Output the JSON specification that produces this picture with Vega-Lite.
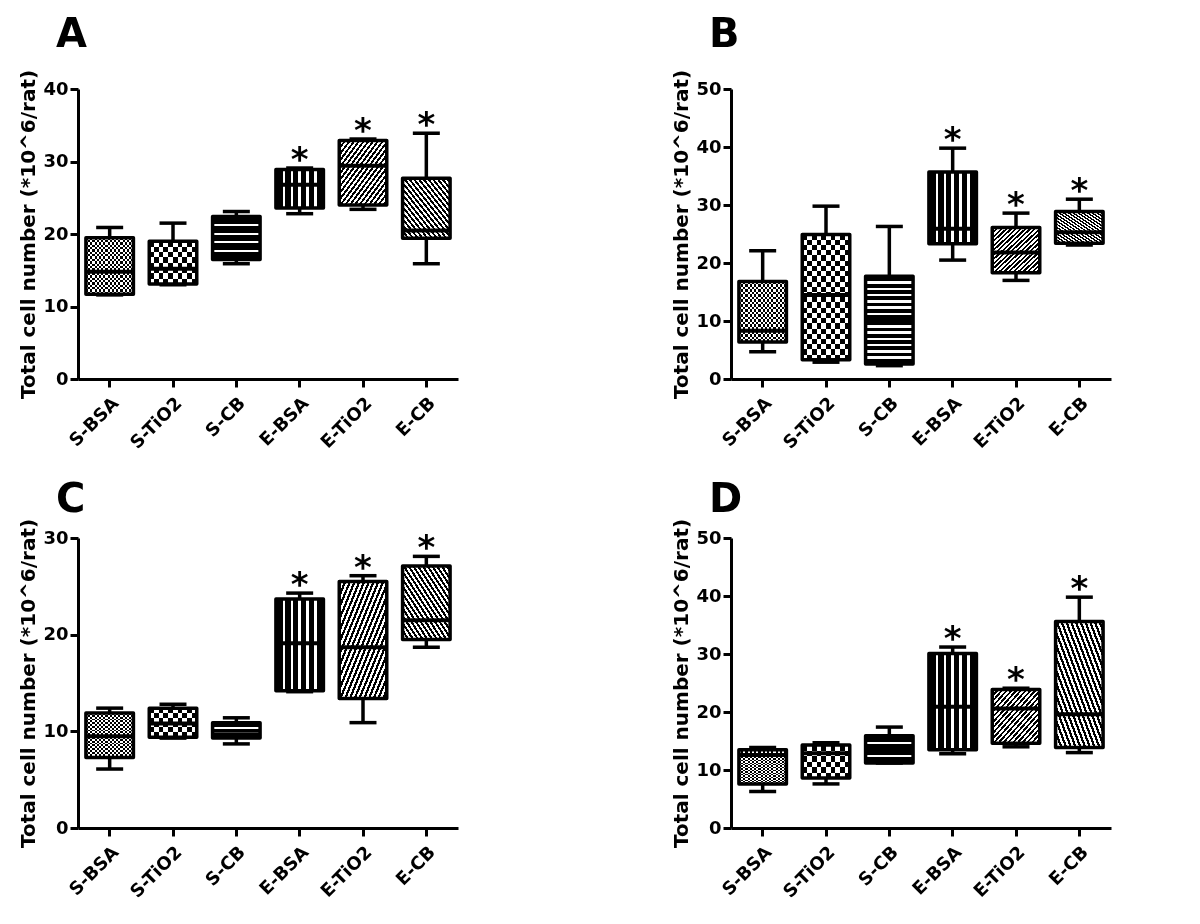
{
"$schema":"https://vega.github.io/schema/vega-lite/v6.json",
"background":"white",
"padding":{"left":18,"top":15,"right":5,"bottom":5},
"config":{"font":"DejaVu Sans","view":{"stroke":null},
"axis":{"domainColor":"#000","domainWidth":3,"tickColor":"#000","tickWidth":3,"tickSize":8,"labelFont":"DejaVu Sans","labelFontWeight":"bold","labelColor":"#000","labelFontSize":18,"labelPadding":2,"titleFont":"DejaVu Sans","titleFontWeight":"bold","titleFontSize":20,"titleColor":"#000","grid":false},
"axisX":{"labelAngle":-45,"labelFontSize":18,"labelPadding":7},
"title":{"fontSize":40,"fontWeight":"bold","anchor":"start","frame":"group","dx":-22,"offset":14,"color":"#000","font":"DejaVu Sans"}},
"data":{"values":[
{"panel":"A","group":"S-BSA","min":11.6,"q1":11.7,"median":14.8,"q3":19.5,"max":20.9,"sig":false},
{"panel":"A","group":"S-TiO2","min":13.0,"q1":13.1,"median":15.2,"q3":19.0,"max":21.5,"sig":false},
{"panel":"A","group":"S-CB","min":15.9,"q1":16.5,"median":19.5,"q3":22.4,"max":23.1,"sig":false},
{"panel":"A","group":"E-BSA","min":22.8,"q1":23.6,"median":26.8,"q3":28.9,"max":29.1,"sig":true},
{"panel":"A","group":"E-TiO2","min":23.4,"q1":24.0,"median":29.4,"q3":32.9,"max":33.1,"sig":true},
{"panel":"A","group":"E-CB","min":15.9,"q1":19.4,"median":20.5,"q3":27.7,"max":33.9,"sig":true},
{"panel":"B","group":"S-BSA","min":4.7,"q1":6.4,"median":8.3,"q3":16.8,"max":22.1,"sig":false},
{"panel":"B","group":"S-TiO2","min":2.9,"q1":3.3,"median":14.5,"q3":24.9,"max":29.8,"sig":false},
{"panel":"B","group":"S-CB","min":2.3,"q1":2.6,"median":10.0,"q3":17.7,"max":26.3,"sig":false},
{"panel":"B","group":"E-BSA","min":20.5,"q1":23.3,"median":25.9,"q3":35.7,"max":39.8,"sig":true},
{"panel":"B","group":"E-TiO2","min":17.0,"q1":18.3,"median":21.8,"q3":26.1,"max":28.6,"sig":true},
{"panel":"B","group":"E-CB","min":23.1,"q1":23.4,"median":25.3,"q3":28.9,"max":31.0,"sig":true},
{"panel":"C","group":"S-BSA","min":6.1,"q1":7.3,"median":9.5,"q3":11.9,"max":12.4,"sig":false},
{"panel":"C","group":"S-TiO2","min":9.3,"q1":9.4,"median":10.8,"q3":12.4,"max":12.8,"sig":false},
{"panel":"C","group":"S-CB","min":8.7,"q1":9.3,"median":9.7,"q3":10.9,"max":11.4,"sig":false},
{"panel":"C","group":"E-BSA","min":14.1,"q1":14.2,"median":19.1,"q3":23.7,"max":24.3,"sig":true},
{"panel":"C","group":"E-TiO2","min":10.9,"q1":13.4,"median":18.7,"q3":25.5,"max":26.1,"sig":true},
{"panel":"C","group":"E-CB","min":18.7,"q1":19.5,"median":21.5,"q3":27.1,"max":28.1,"sig":true},
{"panel":"D","group":"S-BSA","min":6.3,"q1":7.6,"median":12.6,"q3":13.5,"max":13.9,"sig":false},
{"panel":"D","group":"S-TiO2","min":7.6,"q1":8.6,"median":12.9,"q3":14.3,"max":14.7,"sig":false},
{"panel":"D","group":"S-CB","min":11.2,"q1":11.2,"median":13.5,"q3":15.9,"max":17.4,"sig":false},
{"panel":"D","group":"E-BSA","min":12.8,"q1":13.5,"median":20.9,"q3":30.1,"max":31.2,"sig":true},
{"panel":"D","group":"E-TiO2","min":14.0,"q1":14.6,"median":20.6,"q3":23.9,"max":24.1,"sig":true},
{"panel":"D","group":"E-CB","min":13.0,"q1":13.9,"median":19.6,"q3":35.6,"max":39.8,"sig":true}
]},
"vconcat":[
{"hconcat":[
{"width":380,"height":290,"title":{"text":"A"},
"transform":[{"filter":"datum.panel==='A'"}],
"encoding":{"x":{"field":"group","type":"nominal","sort":["S-BSA","S-TiO2","S-CB","E-BSA","E-TiO2","E-CB"],"title":null,"scale":{"paddingInner":0.25,"paddingOuter":0.125}}},
"layer":[
{"mark":{"type":"rule","strokeWidth":3.5,"color":"#000"},"encoding":{"y":{"field":"min","type":"quantitative","scale":{"domain":[0,40],"nice":false},"axis":{"values":[0,10,20,30,40]},"title":"Total cell number (*10^6/rat)"},"y2":{"field":"max"}}},
{"mark":{"type":"bar","strokeWidth":0},"encoding":{"y":{"field":"q1","type":"quantitative","title":"Total cell number (*10^6/rat)"},"y2":{"field":"q3"},
"fill":{"condition":[
{"test":"datum.group==='S-BSA'","value":{"gradient":"linear","x1":0,"y1":0,"x2":1,"y2":0,"stops":[{"offset":0,"color":"#fff"},{"offset":0.0455,"color":"#fff"},{"offset":0.0455,"color":"#000"},{"offset":0.0909,"color":"#000"},{"offset":0.0909,"color":"#fff"},{"offset":0.1364,"color":"#fff"},{"offset":0.1364,"color":"#000"},{"offset":0.1818,"color":"#000"},{"offset":0.1818,"color":"#fff"},{"offset":0.2273,"color":"#fff"},{"offset":0.2273,"color":"#000"},{"offset":0.2727,"color":"#000"},{"offset":0.2727,"color":"#fff"},{"offset":0.3182,"color":"#fff"},{"offset":0.3182,"color":"#000"},{"offset":0.3636,"color":"#000"},{"offset":0.3636,"color":"#fff"},{"offset":0.4091,"color":"#fff"},{"offset":0.4091,"color":"#000"},{"offset":0.4545,"color":"#000"},{"offset":0.4545,"color":"#fff"},{"offset":0.5,"color":"#fff"},{"offset":0.5,"color":"#000"},{"offset":0.5455,"color":"#000"},{"offset":0.5455,"color":"#fff"},{"offset":0.5909,"color":"#fff"},{"offset":0.5909,"color":"#000"},{"offset":0.6364,"color":"#000"},{"offset":0.6364,"color":"#fff"},{"offset":0.6818,"color":"#fff"},{"offset":0.6818,"color":"#000"},{"offset":0.7273,"color":"#000"},{"offset":0.7273,"color":"#fff"},{"offset":0.7727,"color":"#fff"},{"offset":0.7727,"color":"#000"},{"offset":0.8182,"color":"#000"},{"offset":0.8182,"color":"#fff"},{"offset":0.8636,"color":"#fff"},{"offset":0.8636,"color":"#000"},{"offset":0.9091,"color":"#000"},{"offset":0.9091,"color":"#fff"},{"offset":0.9545,"color":"#fff"},{"offset":0.9545,"color":"#000"},{"offset":1,"color":"#000"}]}},
{"test":"datum.group==='S-TiO2'","value":{"gradient":"linear","x1":0,"y1":0,"x2":1,"y2":0,"stops":[{"offset":0,"color":"#fff"},{"offset":0.1,"color":"#fff"},{"offset":0.1,"color":"#000"},{"offset":0.2,"color":"#000"},{"offset":0.2,"color":"#fff"},{"offset":0.3,"color":"#fff"},{"offset":0.3,"color":"#000"},{"offset":0.4,"color":"#000"},{"offset":0.4,"color":"#fff"},{"offset":0.5,"color":"#fff"},{"offset":0.5,"color":"#000"},{"offset":0.6,"color":"#000"},{"offset":0.6,"color":"#fff"},{"offset":0.7,"color":"#fff"},{"offset":0.7,"color":"#000"},{"offset":0.8,"color":"#000"},{"offset":0.8,"color":"#fff"},{"offset":0.9,"color":"#fff"},{"offset":0.9,"color":"#000"},{"offset":1,"color":"#000"}]}},
{"test":"datum.group==='S-CB'","value":{"gradient":"linear","x1":0,"y1":0,"x2":0,"y2":1,"stops":[{"offset":0,"color":"#000"},{"offset":0.175,"color":"#000"},{"offset":0.175,"color":"#fff"},{"offset":0.225,"color":"#fff"},{"offset":0.225,"color":"#000"},{"offset":0.375,"color":"#000"},{"offset":0.375,"color":"#fff"},{"offset":0.425,"color":"#fff"},{"offset":0.425,"color":"#000"},{"offset":0.575,"color":"#000"},{"offset":0.575,"color":"#fff"},{"offset":0.625,"color":"#fff"},{"offset":0.625,"color":"#000"},{"offset":0.775,"color":"#000"},{"offset":0.775,"color":"#fff"},{"offset":0.825,"color":"#fff"},{"offset":0.825,"color":"#000"},{"offset":1,"color":"#000"}]}},
{"test":"datum.group==='E-BSA'","value":{"gradient":"linear","x1":0,"y1":0,"x2":1,"y2":0,"stops":[{"offset":0,"color":"#000"},{"offset":0.14,"color":"#000"},{"offset":0.14,"color":"#fff"},{"offset":0.19,"color":"#fff"},{"offset":0.19,"color":"#000"},{"offset":0.31,"color":"#000"},{"offset":0.31,"color":"#fff"},{"offset":0.36,"color":"#fff"},{"offset":0.36,"color":"#000"},{"offset":0.475,"color":"#000"},{"offset":0.475,"color":"#fff"},{"offset":0.525,"color":"#fff"},{"offset":0.525,"color":"#000"},{"offset":0.64,"color":"#000"},{"offset":0.64,"color":"#fff"},{"offset":0.69,"color":"#fff"},{"offset":0.69,"color":"#000"},{"offset":0.81,"color":"#000"},{"offset":0.81,"color":"#fff"},{"offset":0.86,"color":"#fff"},{"offset":0.86,"color":"#000"},{"offset":1,"color":"#000"}]}},
{"test":"datum.group==='E-TiO2'","value":{"gradient":"linear","x1":0,"y1":0,"x2":1,"y2":1,"stops":[{"offset":0,"color":"#000"},{"offset":0.025,"color":"#000"},{"offset":0.025,"color":"#fff"},{"offset":0.05,"color":"#fff"},{"offset":0.05,"color":"#000"},{"offset":0.075,"color":"#000"},{"offset":0.075,"color":"#fff"},{"offset":0.1,"color":"#fff"},{"offset":0.1,"color":"#000"},{"offset":0.125,"color":"#000"},{"offset":0.125,"color":"#fff"},{"offset":0.15,"color":"#fff"},{"offset":0.15,"color":"#000"},{"offset":0.175,"color":"#000"},{"offset":0.175,"color":"#fff"},{"offset":0.2,"color":"#fff"},{"offset":0.2,"color":"#000"},{"offset":0.225,"color":"#000"},{"offset":0.225,"color":"#fff"},{"offset":0.25,"color":"#fff"},{"offset":0.25,"color":"#000"},{"offset":0.275,"color":"#000"},{"offset":0.275,"color":"#fff"},{"offset":0.3,"color":"#fff"},{"offset":0.3,"color":"#000"},{"offset":0.325,"color":"#000"},{"offset":0.325,"color":"#fff"},{"offset":0.35,"color":"#fff"},{"offset":0.35,"color":"#000"},{"offset":0.375,"color":"#000"},{"offset":0.375,"color":"#fff"},{"offset":0.4,"color":"#fff"},{"offset":0.4,"color":"#000"},{"offset":0.425,"color":"#000"},{"offset":0.425,"color":"#fff"},{"offset":0.45,"color":"#fff"},{"offset":0.45,"color":"#000"},{"offset":0.475,"color":"#000"},{"offset":0.475,"color":"#fff"},{"offset":0.5,"color":"#fff"},{"offset":0.5,"color":"#000"},{"offset":0.525,"color":"#000"},{"offset":0.525,"color":"#fff"},{"offset":0.55,"color":"#fff"},{"offset":0.55,"color":"#000"},{"offset":0.575,"color":"#000"},{"offset":0.575,"color":"#fff"},{"offset":0.6,"color":"#fff"},{"offset":0.6,"color":"#000"},{"offset":0.625,"color":"#000"},{"offset":0.625,"color":"#fff"},{"offset":0.65,"color":"#fff"},{"offset":0.65,"color":"#000"},{"offset":0.675,"color":"#000"},{"offset":0.675,"color":"#fff"},{"offset":0.7,"color":"#fff"},{"offset":0.7,"color":"#000"},{"offset":0.725,"color":"#000"},{"offset":0.725,"color":"#fff"},{"offset":0.75,"color":"#fff"},{"offset":0.75,"color":"#000"},{"offset":0.775,"color":"#000"},{"offset":0.775,"color":"#fff"},{"offset":0.8,"color":"#fff"},{"offset":0.8,"color":"#000"},{"offset":0.825,"color":"#000"},{"offset":0.825,"color":"#fff"},{"offset":0.85,"color":"#fff"},{"offset":0.85,"color":"#000"},{"offset":0.875,"color":"#000"},{"offset":0.875,"color":"#fff"},{"offset":0.9,"color":"#fff"},{"offset":0.9,"color":"#000"},{"offset":0.925,"color":"#000"},{"offset":0.925,"color":"#fff"},{"offset":0.95,"color":"#fff"},{"offset":0.95,"color":"#000"},{"offset":0.975,"color":"#000"},{"offset":0.975,"color":"#fff"},{"offset":1,"color":"#fff"}]}}
],"value":{"gradient":"linear","x1":0,"y1":1,"x2":1,"y2":0,"stops":[{"offset":0,"color":"#000"},{"offset":0.025,"color":"#000"},{"offset":0.025,"color":"#fff"},{"offset":0.05,"color":"#fff"},{"offset":0.05,"color":"#000"},{"offset":0.075,"color":"#000"},{"offset":0.075,"color":"#fff"},{"offset":0.1,"color":"#fff"},{"offset":0.1,"color":"#000"},{"offset":0.125,"color":"#000"},{"offset":0.125,"color":"#fff"},{"offset":0.15,"color":"#fff"},{"offset":0.15,"color":"#000"},{"offset":0.175,"color":"#000"},{"offset":0.175,"color":"#fff"},{"offset":0.2,"color":"#fff"},{"offset":0.2,"color":"#000"},{"offset":0.225,"color":"#000"},{"offset":0.225,"color":"#fff"},{"offset":0.25,"color":"#fff"},{"offset":0.25,"color":"#000"},{"offset":0.275,"color":"#000"},{"offset":0.275,"color":"#fff"},{"offset":0.3,"color":"#fff"},{"offset":0.3,"color":"#000"},{"offset":0.325,"color":"#000"},{"offset":0.325,"color":"#fff"},{"offset":0.35,"color":"#fff"},{"offset":0.35,"color":"#000"},{"offset":0.375,"color":"#000"},{"offset":0.375,"color":"#fff"},{"offset":0.4,"color":"#fff"},{"offset":0.4,"color":"#000"},{"offset":0.425,"color":"#000"},{"offset":0.425,"color":"#fff"},{"offset":0.45,"color":"#fff"},{"offset":0.45,"color":"#000"},{"offset":0.475,"color":"#000"},{"offset":0.475,"color":"#fff"},{"offset":0.5,"color":"#fff"},{"offset":0.5,"color":"#000"},{"offset":0.525,"color":"#000"},{"offset":0.525,"color":"#fff"},{"offset":0.55,"color":"#fff"},{"offset":0.55,"color":"#000"},{"offset":0.575,"color":"#000"},{"offset":0.575,"color":"#fff"},{"offset":0.6,"color":"#fff"},{"offset":0.6,"color":"#000"},{"offset":0.625,"color":"#000"},{"offset":0.625,"color":"#fff"},{"offset":0.65,"color":"#fff"},{"offset":0.65,"color":"#000"},{"offset":0.675,"color":"#000"},{"offset":0.675,"color":"#fff"},{"offset":0.7,"color":"#fff"},{"offset":0.7,"color":"#000"},{"offset":0.725,"color":"#000"},{"offset":0.725,"color":"#fff"},{"offset":0.75,"color":"#fff"},{"offset":0.75,"color":"#000"},{"offset":0.775,"color":"#000"},{"offset":0.775,"color":"#fff"},{"offset":0.8,"color":"#fff"},{"offset":0.8,"color":"#000"},{"offset":0.825,"color":"#000"},{"offset":0.825,"color":"#fff"},{"offset":0.85,"color":"#fff"},{"offset":0.85,"color":"#000"},{"offset":0.875,"color":"#000"},{"offset":0.875,"color":"#fff"},{"offset":0.9,"color":"#fff"},{"offset":0.9,"color":"#000"},{"offset":0.925,"color":"#000"},{"offset":0.925,"color":"#fff"},{"offset":0.95,"color":"#fff"},{"offset":0.95,"color":"#000"},{"offset":0.975,"color":"#000"},{"offset":0.975,"color":"#fff"},{"offset":1,"color":"#fff"}]}}}},
{"transform":[{"filter":"datum.group==='S-BSA'||datum.group==='S-TiO2'"}],"mark":{"type":"bar","strokeWidth":0,"blend":"difference"},"encoding":{"y":{"field":"q1","type":"quantitative","title":"Total cell number (*10^6/rat)"},"y2":{"field":"q3"},
"fill":{"condition":{"test":"datum.group==='S-BSA'","value":{"gradient":"linear","x1":0,"y1":0,"x2":0,"y2":1,"stops":[{"offset":0,"color":"#fff"},{"offset":0.0417,"color":"#fff"},{"offset":0.0417,"color":"#000"},{"offset":0.0833,"color":"#000"},{"offset":0.0833,"color":"#fff"},{"offset":0.125,"color":"#fff"},{"offset":0.125,"color":"#000"},{"offset":0.1667,"color":"#000"},{"offset":0.1667,"color":"#fff"},{"offset":0.2083,"color":"#fff"},{"offset":0.2083,"color":"#000"},{"offset":0.25,"color":"#000"},{"offset":0.25,"color":"#fff"},{"offset":0.2917,"color":"#fff"},{"offset":0.2917,"color":"#000"},{"offset":0.3333,"color":"#000"},{"offset":0.3333,"color":"#fff"},{"offset":0.375,"color":"#fff"},{"offset":0.375,"color":"#000"},{"offset":0.4167,"color":"#000"},{"offset":0.4167,"color":"#fff"},{"offset":0.4583,"color":"#fff"},{"offset":0.4583,"color":"#000"},{"offset":0.5,"color":"#000"},{"offset":0.5,"color":"#fff"},{"offset":0.5417,"color":"#fff"},{"offset":0.5417,"color":"#000"},{"offset":0.5833,"color":"#000"},{"offset":0.5833,"color":"#fff"},{"offset":0.625,"color":"#fff"},{"offset":0.625,"color":"#000"},{"offset":0.6667,"color":"#000"},{"offset":0.6667,"color":"#fff"},{"offset":0.7083,"color":"#fff"},{"offset":0.7083,"color":"#000"},{"offset":0.75,"color":"#000"},{"offset":0.75,"color":"#fff"},{"offset":0.7917,"color":"#fff"},{"offset":0.7917,"color":"#000"},{"offset":0.8333,"color":"#000"},{"offset":0.8333,"color":"#fff"},{"offset":0.875,"color":"#fff"},{"offset":0.875,"color":"#000"},{"offset":0.9167,"color":"#000"},{"offset":0.9167,"color":"#fff"},{"offset":0.9583,"color":"#fff"},{"offset":0.9583,"color":"#000"},{"offset":1,"color":"#000"}]}},
"value":{"gradient":"linear","x1":0,"y1":0,"x2":0,"y2":1,"stops":[{"offset":0,"color":"#fff"},{"offset":0.125,"color":"#fff"},{"offset":0.125,"color":"#000"},{"offset":0.25,"color":"#000"},{"offset":0.25,"color":"#fff"},{"offset":0.375,"color":"#fff"},{"offset":0.375,"color":"#000"},{"offset":0.5,"color":"#000"},{"offset":0.5,"color":"#fff"},{"offset":0.625,"color":"#fff"},{"offset":0.625,"color":"#000"},{"offset":0.75,"color":"#000"},{"offset":0.75,"color":"#fff"},{"offset":0.875,"color":"#fff"},{"offset":0.875,"color":"#000"},{"offset":1,"color":"#000"}]}}}},
{"mark":{"type":"tick","size":47,"thickness":4,"color":"#000","opacity":1},"encoding":{"y":{"field":"median","type":"quantitative","title":"Total cell number (*10^6/rat)"}}},
{"mark":{"type":"bar","filled":false,"stroke":"#000","strokeWidth":3.5,"strokeJoin":"round"},"encoding":{"y":{"field":"q1","type":"quantitative","title":"Total cell number (*10^6/rat)"},"y2":{"field":"q3"}}},
{"mark":{"type":"tick","size":27,"thickness":3.5,"color":"#000","opacity":1},"encoding":{"y":{"field":"min","type":"quantitative","title":"Total cell number (*10^6/rat)"}}},
{"mark":{"type":"tick","size":27,"thickness":3.5,"color":"#000","opacity":1},"encoding":{"y":{"field":"max","type":"quantitative","title":"Total cell number (*10^6/rat)"}}},
{"transform":[{"filter":"datum.sig"}],"mark":{"type":"text","text":"*","fontSize":34,"fontWeight":"bold","baseline":"alphabetic","dy":3,"color":"#000"},"encoding":{"y":{"field":"max","type":"quantitative","title":"Total cell number (*10^6/rat)"}}}
]},
{"width":380,"height":290,"title":{"text":"B"},
"transform":[{"filter":"datum.panel==='B'"}],
"encoding":{"x":{"field":"group","type":"nominal","sort":["S-BSA","S-TiO2","S-CB","E-BSA","E-TiO2","E-CB"],"title":null,"scale":{"paddingInner":0.25,"paddingOuter":0.125}}},
"layer":[
{"mark":{"type":"rule","strokeWidth":3.5,"color":"#000"},"encoding":{"y":{"field":"min","type":"quantitative","scale":{"domain":[0,50],"nice":false},"axis":{"values":[0,10,20,30,40,50]},"title":"Total cell number (*10^6/rat)"},"y2":{"field":"max"}}},
{"mark":{"type":"bar","strokeWidth":0},"encoding":{"y":{"field":"q1","type":"quantitative","title":"Total cell number (*10^6/rat)"},"y2":{"field":"q3"},
"fill":{"condition":[
{"test":"datum.group==='S-BSA'","value":{"gradient":"linear","x1":0,"y1":0,"x2":1,"y2":0,"stops":[{"offset":0,"color":"#fff"},{"offset":0.0455,"color":"#fff"},{"offset":0.0455,"color":"#000"},{"offset":0.0909,"color":"#000"},{"offset":0.0909,"color":"#fff"},{"offset":0.1364,"color":"#fff"},{"offset":0.1364,"color":"#000"},{"offset":0.1818,"color":"#000"},{"offset":0.1818,"color":"#fff"},{"offset":0.2273,"color":"#fff"},{"offset":0.2273,"color":"#000"},{"offset":0.2727,"color":"#000"},{"offset":0.2727,"color":"#fff"},{"offset":0.3182,"color":"#fff"},{"offset":0.3182,"color":"#000"},{"offset":0.3636,"color":"#000"},{"offset":0.3636,"color":"#fff"},{"offset":0.4091,"color":"#fff"},{"offset":0.4091,"color":"#000"},{"offset":0.4545,"color":"#000"},{"offset":0.4545,"color":"#fff"},{"offset":0.5,"color":"#fff"},{"offset":0.5,"color":"#000"},{"offset":0.5455,"color":"#000"},{"offset":0.5455,"color":"#fff"},{"offset":0.5909,"color":"#fff"},{"offset":0.5909,"color":"#000"},{"offset":0.6364,"color":"#000"},{"offset":0.6364,"color":"#fff"},{"offset":0.6818,"color":"#fff"},{"offset":0.6818,"color":"#000"},{"offset":0.7273,"color":"#000"},{"offset":0.7273,"color":"#fff"},{"offset":0.7727,"color":"#fff"},{"offset":0.7727,"color":"#000"},{"offset":0.8182,"color":"#000"},{"offset":0.8182,"color":"#fff"},{"offset":0.8636,"color":"#fff"},{"offset":0.8636,"color":"#000"},{"offset":0.9091,"color":"#000"},{"offset":0.9091,"color":"#fff"},{"offset":0.9545,"color":"#fff"},{"offset":0.9545,"color":"#000"},{"offset":1,"color":"#000"}]}},
{"test":"datum.group==='S-TiO2'","value":{"gradient":"linear","x1":0,"y1":0,"x2":1,"y2":0,"stops":[{"offset":0,"color":"#fff"},{"offset":0.1,"color":"#fff"},{"offset":0.1,"color":"#000"},{"offset":0.2,"color":"#000"},{"offset":0.2,"color":"#fff"},{"offset":0.3,"color":"#fff"},{"offset":0.3,"color":"#000"},{"offset":0.4,"color":"#000"},{"offset":0.4,"color":"#fff"},{"offset":0.5,"color":"#fff"},{"offset":0.5,"color":"#000"},{"offset":0.6,"color":"#000"},{"offset":0.6,"color":"#fff"},{"offset":0.7,"color":"#fff"},{"offset":0.7,"color":"#000"},{"offset":0.8,"color":"#000"},{"offset":0.8,"color":"#fff"},{"offset":0.9,"color":"#fff"},{"offset":0.9,"color":"#000"},{"offset":1,"color":"#000"}]}},
{"test":"datum.group==='S-CB'","value":{"gradient":"linear","x1":0,"y1":0,"x2":0,"y2":1,"stops":[{"offset":0,"color":"#000"},{"offset":0.057,"color":"#000"},{"offset":0.057,"color":"#fff"},{"offset":0.085,"color":"#fff"},{"offset":0.085,"color":"#000"},{"offset":0.129,"color":"#000"},{"offset":0.129,"color":"#fff"},{"offset":0.157,"color":"#fff"},{"offset":0.157,"color":"#000"},{"offset":0.2,"color":"#000"},{"offset":0.2,"color":"#fff"},{"offset":0.228,"color":"#fff"},{"offset":0.228,"color":"#000"},{"offset":0.272,"color":"#000"},{"offset":0.272,"color":"#fff"},{"offset":0.3,"color":"#fff"},{"offset":0.3,"color":"#000"},{"offset":0.343,"color":"#000"},{"offset":0.343,"color":"#fff"},{"offset":0.371,"color":"#fff"},{"offset":0.371,"color":"#000"},{"offset":0.415,"color":"#000"},{"offset":0.415,"color":"#fff"},{"offset":0.443,"color":"#fff"},{"offset":0.443,"color":"#000"},{"offset":0.486,"color":"#000"},{"offset":0.486,"color":"#fff"},{"offset":0.514,"color":"#fff"},{"offset":0.514,"color":"#000"},{"offset":0.557,"color":"#000"},{"offset":0.557,"color":"#fff"},{"offset":0.585,"color":"#fff"},{"offset":0.585,"color":"#000"},{"offset":0.629,"color":"#000"},{"offset":0.629,"color":"#fff"},{"offset":0.657,"color":"#fff"},{"offset":0.657,"color":"#000"},{"offset":0.7,"color":"#000"},{"offset":0.7,"color":"#fff"},{"offset":0.728,"color":"#fff"},{"offset":0.728,"color":"#000"},{"offset":0.772,"color":"#000"},{"offset":0.772,"color":"#fff"},{"offset":0.8,"color":"#fff"},{"offset":0.8,"color":"#000"},{"offset":0.843,"color":"#000"},{"offset":0.843,"color":"#fff"},{"offset":0.871,"color":"#fff"},{"offset":0.871,"color":"#000"},{"offset":0.915,"color":"#000"},{"offset":0.915,"color":"#fff"},{"offset":0.943,"color":"#fff"},{"offset":0.943,"color":"#000"},{"offset":1,"color":"#000"}]}},
{"test":"datum.group==='E-BSA'","value":{"gradient":"linear","x1":0,"y1":0,"x2":1,"y2":0,"stops":[{"offset":0,"color":"#000"},{"offset":0.14,"color":"#000"},{"offset":0.14,"color":"#fff"},{"offset":0.19,"color":"#fff"},{"offset":0.19,"color":"#000"},{"offset":0.31,"color":"#000"},{"offset":0.31,"color":"#fff"},{"offset":0.36,"color":"#fff"},{"offset":0.36,"color":"#000"},{"offset":0.475,"color":"#000"},{"offset":0.475,"color":"#fff"},{"offset":0.525,"color":"#fff"},{"offset":0.525,"color":"#000"},{"offset":0.64,"color":"#000"},{"offset":0.64,"color":"#fff"},{"offset":0.69,"color":"#fff"},{"offset":0.69,"color":"#000"},{"offset":0.81,"color":"#000"},{"offset":0.81,"color":"#fff"},{"offset":0.86,"color":"#fff"},{"offset":0.86,"color":"#000"},{"offset":1,"color":"#000"}]}},
{"test":"datum.group==='E-TiO2'","value":{"gradient":"linear","x1":0,"y1":0,"x2":1,"y2":1,"stops":[{"offset":0,"color":"#000"},{"offset":0.025,"color":"#000"},{"offset":0.025,"color":"#fff"},{"offset":0.05,"color":"#fff"},{"offset":0.05,"color":"#000"},{"offset":0.075,"color":"#000"},{"offset":0.075,"color":"#fff"},{"offset":0.1,"color":"#fff"},{"offset":0.1,"color":"#000"},{"offset":0.125,"color":"#000"},{"offset":0.125,"color":"#fff"},{"offset":0.15,"color":"#fff"},{"offset":0.15,"color":"#000"},{"offset":0.175,"color":"#000"},{"offset":0.175,"color":"#fff"},{"offset":0.2,"color":"#fff"},{"offset":0.2,"color":"#000"},{"offset":0.225,"color":"#000"},{"offset":0.225,"color":"#fff"},{"offset":0.25,"color":"#fff"},{"offset":0.25,"color":"#000"},{"offset":0.275,"color":"#000"},{"offset":0.275,"color":"#fff"},{"offset":0.3,"color":"#fff"},{"offset":0.3,"color":"#000"},{"offset":0.325,"color":"#000"},{"offset":0.325,"color":"#fff"},{"offset":0.35,"color":"#fff"},{"offset":0.35,"color":"#000"},{"offset":0.375,"color":"#000"},{"offset":0.375,"color":"#fff"},{"offset":0.4,"color":"#fff"},{"offset":0.4,"color":"#000"},{"offset":0.425,"color":"#000"},{"offset":0.425,"color":"#fff"},{"offset":0.45,"color":"#fff"},{"offset":0.45,"color":"#000"},{"offset":0.475,"color":"#000"},{"offset":0.475,"color":"#fff"},{"offset":0.5,"color":"#fff"},{"offset":0.5,"color":"#000"},{"offset":0.525,"color":"#000"},{"offset":0.525,"color":"#fff"},{"offset":0.55,"color":"#fff"},{"offset":0.55,"color":"#000"},{"offset":0.575,"color":"#000"},{"offset":0.575,"color":"#fff"},{"offset":0.6,"color":"#fff"},{"offset":0.6,"color":"#000"},{"offset":0.625,"color":"#000"},{"offset":0.625,"color":"#fff"},{"offset":0.65,"color":"#fff"},{"offset":0.65,"color":"#000"},{"offset":0.675,"color":"#000"},{"offset":0.675,"color":"#fff"},{"offset":0.7,"color":"#fff"},{"offset":0.7,"color":"#000"},{"offset":0.725,"color":"#000"},{"offset":0.725,"color":"#fff"},{"offset":0.75,"color":"#fff"},{"offset":0.75,"color":"#000"},{"offset":0.775,"color":"#000"},{"offset":0.775,"color":"#fff"},{"offset":0.8,"color":"#fff"},{"offset":0.8,"color":"#000"},{"offset":0.825,"color":"#000"},{"offset":0.825,"color":"#fff"},{"offset":0.85,"color":"#fff"},{"offset":0.85,"color":"#000"},{"offset":0.875,"color":"#000"},{"offset":0.875,"color":"#fff"},{"offset":0.9,"color":"#fff"},{"offset":0.9,"color":"#000"},{"offset":0.925,"color":"#000"},{"offset":0.925,"color":"#fff"},{"offset":0.95,"color":"#fff"},{"offset":0.95,"color":"#000"},{"offset":0.975,"color":"#000"},{"offset":0.975,"color":"#fff"},{"offset":1,"color":"#fff"}]}}
],"value":{"gradient":"linear","x1":0,"y1":1,"x2":1,"y2":0,"stops":[{"offset":0,"color":"#000"},{"offset":0.025,"color":"#000"},{"offset":0.025,"color":"#fff"},{"offset":0.05,"color":"#fff"},{"offset":0.05,"color":"#000"},{"offset":0.075,"color":"#000"},{"offset":0.075,"color":"#fff"},{"offset":0.1,"color":"#fff"},{"offset":0.1,"color":"#000"},{"offset":0.125,"color":"#000"},{"offset":0.125,"color":"#fff"},{"offset":0.15,"color":"#fff"},{"offset":0.15,"color":"#000"},{"offset":0.175,"color":"#000"},{"offset":0.175,"color":"#fff"},{"offset":0.2,"color":"#fff"},{"offset":0.2,"color":"#000"},{"offset":0.225,"color":"#000"},{"offset":0.225,"color":"#fff"},{"offset":0.25,"color":"#fff"},{"offset":0.25,"color":"#000"},{"offset":0.275,"color":"#000"},{"offset":0.275,"color":"#fff"},{"offset":0.3,"color":"#fff"},{"offset":0.3,"color":"#000"},{"offset":0.325,"color":"#000"},{"offset":0.325,"color":"#fff"},{"offset":0.35,"color":"#fff"},{"offset":0.35,"color":"#000"},{"offset":0.375,"color":"#000"},{"offset":0.375,"color":"#fff"},{"offset":0.4,"color":"#fff"},{"offset":0.4,"color":"#000"},{"offset":0.425,"color":"#000"},{"offset":0.425,"color":"#fff"},{"offset":0.45,"color":"#fff"},{"offset":0.45,"color":"#000"},{"offset":0.475,"color":"#000"},{"offset":0.475,"color":"#fff"},{"offset":0.5,"color":"#fff"},{"offset":0.5,"color":"#000"},{"offset":0.525,"color":"#000"},{"offset":0.525,"color":"#fff"},{"offset":0.55,"color":"#fff"},{"offset":0.55,"color":"#000"},{"offset":0.575,"color":"#000"},{"offset":0.575,"color":"#fff"},{"offset":0.6,"color":"#fff"},{"offset":0.6,"color":"#000"},{"offset":0.625,"color":"#000"},{"offset":0.625,"color":"#fff"},{"offset":0.65,"color":"#fff"},{"offset":0.65,"color":"#000"},{"offset":0.675,"color":"#000"},{"offset":0.675,"color":"#fff"},{"offset":0.7,"color":"#fff"},{"offset":0.7,"color":"#000"},{"offset":0.725,"color":"#000"},{"offset":0.725,"color":"#fff"},{"offset":0.75,"color":"#fff"},{"offset":0.75,"color":"#000"},{"offset":0.775,"color":"#000"},{"offset":0.775,"color":"#fff"},{"offset":0.8,"color":"#fff"},{"offset":0.8,"color":"#000"},{"offset":0.825,"color":"#000"},{"offset":0.825,"color":"#fff"},{"offset":0.85,"color":"#fff"},{"offset":0.85,"color":"#000"},{"offset":0.875,"color":"#000"},{"offset":0.875,"color":"#fff"},{"offset":0.9,"color":"#fff"},{"offset":0.9,"color":"#000"},{"offset":0.925,"color":"#000"},{"offset":0.925,"color":"#fff"},{"offset":0.95,"color":"#fff"},{"offset":0.95,"color":"#000"},{"offset":0.975,"color":"#000"},{"offset":0.975,"color":"#fff"},{"offset":1,"color":"#fff"}]}}}},
{"transform":[{"filter":"datum.group==='S-BSA'||datum.group==='S-TiO2'"}],"mark":{"type":"bar","strokeWidth":0,"blend":"difference"},"encoding":{"y":{"field":"q1","type":"quantitative","title":"Total cell number (*10^6/rat)"},"y2":{"field":"q3"},
"fill":{"value":{"gradient":"linear","x1":0,"y1":0,"x2":0,"y2":1,"stops":[{"offset":0,"color":"#fff"},{"offset":0.0417,"color":"#fff"},{"offset":0.0417,"color":"#000"},{"offset":0.0833,"color":"#000"},{"offset":0.0833,"color":"#fff"},{"offset":0.125,"color":"#fff"},{"offset":0.125,"color":"#000"},{"offset":0.1667,"color":"#000"},{"offset":0.1667,"color":"#fff"},{"offset":0.2083,"color":"#fff"},{"offset":0.2083,"color":"#000"},{"offset":0.25,"color":"#000"},{"offset":0.25,"color":"#fff"},{"offset":0.2917,"color":"#fff"},{"offset":0.2917,"color":"#000"},{"offset":0.3333,"color":"#000"},{"offset":0.3333,"color":"#fff"},{"offset":0.375,"color":"#fff"},{"offset":0.375,"color":"#000"},{"offset":0.4167,"color":"#000"},{"offset":0.4167,"color":"#fff"},{"offset":0.4583,"color":"#fff"},{"offset":0.4583,"color":"#000"},{"offset":0.5,"color":"#000"},{"offset":0.5,"color":"#fff"},{"offset":0.5417,"color":"#fff"},{"offset":0.5417,"color":"#000"},{"offset":0.5833,"color":"#000"},{"offset":0.5833,"color":"#fff"},{"offset":0.625,"color":"#fff"},{"offset":0.625,"color":"#000"},{"offset":0.6667,"color":"#000"},{"offset":0.6667,"color":"#fff"},{"offset":0.7083,"color":"#fff"},{"offset":0.7083,"color":"#000"},{"offset":0.75,"color":"#000"},{"offset":0.75,"color":"#fff"},{"offset":0.7917,"color":"#fff"},{"offset":0.7917,"color":"#000"},{"offset":0.8333,"color":"#000"},{"offset":0.8333,"color":"#fff"},{"offset":0.875,"color":"#fff"},{"offset":0.875,"color":"#000"},{"offset":0.9167,"color":"#000"},{"offset":0.9167,"color":"#fff"},{"offset":0.9583,"color":"#fff"},{"offset":0.9583,"color":"#000"},{"offset":1,"color":"#000"}]}}}},
{"mark":{"type":"tick","size":47,"thickness":4,"color":"#000","opacity":1},"encoding":{"y":{"field":"median","type":"quantitative","title":"Total cell number (*10^6/rat)"}}},
{"mark":{"type":"bar","filled":false,"stroke":"#000","strokeWidth":3.5,"strokeJoin":"round"},"encoding":{"y":{"field":"q1","type":"quantitative","title":"Total cell number (*10^6/rat)"},"y2":{"field":"q3"}}},
{"mark":{"type":"tick","size":27,"thickness":3.5,"color":"#000","opacity":1},"encoding":{"y":{"field":"min","type":"quantitative","title":"Total cell number (*10^6/rat)"}}},
{"mark":{"type":"tick","size":27,"thickness":3.5,"color":"#000","opacity":1},"encoding":{"y":{"field":"max","type":"quantitative","title":"Total cell number (*10^6/rat)"}}},
{"transform":[{"filter":"datum.sig"}],"mark":{"type":"text","text":"*","fontSize":34,"fontWeight":"bold","baseline":"alphabetic","dy":3,"color":"#000"},"encoding":{"y":{"field":"max","type":"quantitative","title":"Total cell number (*10^6/rat)"}}}
]}
],"spacing":213},
{"hconcat":[
{"width":380,"height":290,"title":{"text":"C","offset":-2},
"transform":[{"filter":"datum.panel==='C'"}],
"encoding":{"x":{"field":"group","type":"nominal","sort":["S-BSA","S-TiO2","S-CB","E-BSA","E-TiO2","E-CB"],"title":null,"scale":{"paddingInner":0.25,"paddingOuter":0.125}}},
"layer":[
{"mark":{"type":"rule","strokeWidth":3.5,"color":"#000"},"encoding":{"y":{"field":"min","type":"quantitative","scale":{"domain":[0,30],"nice":false},"axis":{"values":[0,10,20,30]},"title":"Total cell number (*10^6/rat)"},"y2":{"field":"max"}}},
{"mark":{"type":"bar","strokeWidth":0},"encoding":{"y":{"field":"q1","type":"quantitative","title":"Total cell number (*10^6/rat)"},"y2":{"field":"q3"},
"fill":{"condition":[
{"test":"datum.group==='S-BSA'","value":{"gradient":"linear","x1":0,"y1":0,"x2":1,"y2":0,"stops":[{"offset":0,"color":"#fff"},{"offset":0.0455,"color":"#fff"},{"offset":0.0455,"color":"#000"},{"offset":0.0909,"color":"#000"},{"offset":0.0909,"color":"#fff"},{"offset":0.1364,"color":"#fff"},{"offset":0.1364,"color":"#000"},{"offset":0.1818,"color":"#000"},{"offset":0.1818,"color":"#fff"},{"offset":0.2273,"color":"#fff"},{"offset":0.2273,"color":"#000"},{"offset":0.2727,"color":"#000"},{"offset":0.2727,"color":"#fff"},{"offset":0.3182,"color":"#fff"},{"offset":0.3182,"color":"#000"},{"offset":0.3636,"color":"#000"},{"offset":0.3636,"color":"#fff"},{"offset":0.4091,"color":"#fff"},{"offset":0.4091,"color":"#000"},{"offset":0.4545,"color":"#000"},{"offset":0.4545,"color":"#fff"},{"offset":0.5,"color":"#fff"},{"offset":0.5,"color":"#000"},{"offset":0.5455,"color":"#000"},{"offset":0.5455,"color":"#fff"},{"offset":0.5909,"color":"#fff"},{"offset":0.5909,"color":"#000"},{"offset":0.6364,"color":"#000"},{"offset":0.6364,"color":"#fff"},{"offset":0.6818,"color":"#fff"},{"offset":0.6818,"color":"#000"},{"offset":0.7273,"color":"#000"},{"offset":0.7273,"color":"#fff"},{"offset":0.7727,"color":"#fff"},{"offset":0.7727,"color":"#000"},{"offset":0.8182,"color":"#000"},{"offset":0.8182,"color":"#fff"},{"offset":0.8636,"color":"#fff"},{"offset":0.8636,"color":"#000"},{"offset":0.9091,"color":"#000"},{"offset":0.9091,"color":"#fff"},{"offset":0.9545,"color":"#fff"},{"offset":0.9545,"color":"#000"},{"offset":1,"color":"#000"}]}},
{"test":"datum.group==='S-TiO2'","value":{"gradient":"linear","x1":0,"y1":0,"x2":1,"y2":0,"stops":[{"offset":0,"color":"#fff"},{"offset":0.1,"color":"#fff"},{"offset":0.1,"color":"#000"},{"offset":0.2,"color":"#000"},{"offset":0.2,"color":"#fff"},{"offset":0.3,"color":"#fff"},{"offset":0.3,"color":"#000"},{"offset":0.4,"color":"#000"},{"offset":0.4,"color":"#fff"},{"offset":0.5,"color":"#fff"},{"offset":0.5,"color":"#000"},{"offset":0.6,"color":"#000"},{"offset":0.6,"color":"#fff"},{"offset":0.7,"color":"#fff"},{"offset":0.7,"color":"#000"},{"offset":0.8,"color":"#000"},{"offset":0.8,"color":"#fff"},{"offset":0.9,"color":"#fff"},{"offset":0.9,"color":"#000"},{"offset":1,"color":"#000"}]}},
{"test":"datum.group==='S-CB'","value":{"gradient":"linear","x1":0,"y1":0,"x2":0,"y2":1,"stops":[{"offset":0,"color":"#000"},{"offset":0.28,"color":"#000"},{"offset":0.28,"color":"#fff"},{"offset":0.39,"color":"#fff"},{"offset":0.39,"color":"#000"},{"offset":0.61,"color":"#000"},{"offset":0.61,"color":"#fff"},{"offset":0.72,"color":"#fff"},{"offset":0.72,"color":"#000"},{"offset":1,"color":"#000"}]}},
{"test":"datum.group==='E-BSA'","value":{"gradient":"linear","x1":0,"y1":0,"x2":1,"y2":0,"stops":[{"offset":0,"color":"#000"},{"offset":0.14,"color":"#000"},{"offset":0.14,"color":"#fff"},{"offset":0.19,"color":"#fff"},{"offset":0.19,"color":"#000"},{"offset":0.31,"color":"#000"},{"offset":0.31,"color":"#fff"},{"offset":0.36,"color":"#fff"},{"offset":0.36,"color":"#000"},{"offset":0.475,"color":"#000"},{"offset":0.475,"color":"#fff"},{"offset":0.525,"color":"#fff"},{"offset":0.525,"color":"#000"},{"offset":0.64,"color":"#000"},{"offset":0.64,"color":"#fff"},{"offset":0.69,"color":"#fff"},{"offset":0.69,"color":"#000"},{"offset":0.81,"color":"#000"},{"offset":0.81,"color":"#fff"},{"offset":0.86,"color":"#fff"},{"offset":0.86,"color":"#000"},{"offset":1,"color":"#000"}]}},
{"test":"datum.group==='E-TiO2'","value":{"gradient":"linear","x1":0,"y1":0,"x2":1,"y2":1,"stops":[{"offset":0,"color":"#000"},{"offset":0.025,"color":"#000"},{"offset":0.025,"color":"#fff"},{"offset":0.05,"color":"#fff"},{"offset":0.05,"color":"#000"},{"offset":0.075,"color":"#000"},{"offset":0.075,"color":"#fff"},{"offset":0.1,"color":"#fff"},{"offset":0.1,"color":"#000"},{"offset":0.125,"color":"#000"},{"offset":0.125,"color":"#fff"},{"offset":0.15,"color":"#fff"},{"offset":0.15,"color":"#000"},{"offset":0.175,"color":"#000"},{"offset":0.175,"color":"#fff"},{"offset":0.2,"color":"#fff"},{"offset":0.2,"color":"#000"},{"offset":0.225,"color":"#000"},{"offset":0.225,"color":"#fff"},{"offset":0.25,"color":"#fff"},{"offset":0.25,"color":"#000"},{"offset":0.275,"color":"#000"},{"offset":0.275,"color":"#fff"},{"offset":0.3,"color":"#fff"},{"offset":0.3,"color":"#000"},{"offset":0.325,"color":"#000"},{"offset":0.325,"color":"#fff"},{"offset":0.35,"color":"#fff"},{"offset":0.35,"color":"#000"},{"offset":0.375,"color":"#000"},{"offset":0.375,"color":"#fff"},{"offset":0.4,"color":"#fff"},{"offset":0.4,"color":"#000"},{"offset":0.425,"color":"#000"},{"offset":0.425,"color":"#fff"},{"offset":0.45,"color":"#fff"},{"offset":0.45,"color":"#000"},{"offset":0.475,"color":"#000"},{"offset":0.475,"color":"#fff"},{"offset":0.5,"color":"#fff"},{"offset":0.5,"color":"#000"},{"offset":0.525,"color":"#000"},{"offset":0.525,"color":"#fff"},{"offset":0.55,"color":"#fff"},{"offset":0.55,"color":"#000"},{"offset":0.575,"color":"#000"},{"offset":0.575,"color":"#fff"},{"offset":0.6,"color":"#fff"},{"offset":0.6,"color":"#000"},{"offset":0.625,"color":"#000"},{"offset":0.625,"color":"#fff"},{"offset":0.65,"color":"#fff"},{"offset":0.65,"color":"#000"},{"offset":0.675,"color":"#000"},{"offset":0.675,"color":"#fff"},{"offset":0.7,"color":"#fff"},{"offset":0.7,"color":"#000"},{"offset":0.725,"color":"#000"},{"offset":0.725,"color":"#fff"},{"offset":0.75,"color":"#fff"},{"offset":0.75,"color":"#000"},{"offset":0.775,"color":"#000"},{"offset":0.775,"color":"#fff"},{"offset":0.8,"color":"#fff"},{"offset":0.8,"color":"#000"},{"offset":0.825,"color":"#000"},{"offset":0.825,"color":"#fff"},{"offset":0.85,"color":"#fff"},{"offset":0.85,"color":"#000"},{"offset":0.875,"color":"#000"},{"offset":0.875,"color":"#fff"},{"offset":0.9,"color":"#fff"},{"offset":0.9,"color":"#000"},{"offset":0.925,"color":"#000"},{"offset":0.925,"color":"#fff"},{"offset":0.95,"color":"#fff"},{"offset":0.95,"color":"#000"},{"offset":0.975,"color":"#000"},{"offset":0.975,"color":"#fff"},{"offset":1,"color":"#fff"}]}}
],"value":{"gradient":"linear","x1":0,"y1":1,"x2":1,"y2":0,"stops":[{"offset":0,"color":"#000"},{"offset":0.025,"color":"#000"},{"offset":0.025,"color":"#fff"},{"offset":0.05,"color":"#fff"},{"offset":0.05,"color":"#000"},{"offset":0.075,"color":"#000"},{"offset":0.075,"color":"#fff"},{"offset":0.1,"color":"#fff"},{"offset":0.1,"color":"#000"},{"offset":0.125,"color":"#000"},{"offset":0.125,"color":"#fff"},{"offset":0.15,"color":"#fff"},{"offset":0.15,"color":"#000"},{"offset":0.175,"color":"#000"},{"offset":0.175,"color":"#fff"},{"offset":0.2,"color":"#fff"},{"offset":0.2,"color":"#000"},{"offset":0.225,"color":"#000"},{"offset":0.225,"color":"#fff"},{"offset":0.25,"color":"#fff"},{"offset":0.25,"color":"#000"},{"offset":0.275,"color":"#000"},{"offset":0.275,"color":"#fff"},{"offset":0.3,"color":"#fff"},{"offset":0.3,"color":"#000"},{"offset":0.325,"color":"#000"},{"offset":0.325,"color":"#fff"},{"offset":0.35,"color":"#fff"},{"offset":0.35,"color":"#000"},{"offset":0.375,"color":"#000"},{"offset":0.375,"color":"#fff"},{"offset":0.4,"color":"#fff"},{"offset":0.4,"color":"#000"},{"offset":0.425,"color":"#000"},{"offset":0.425,"color":"#fff"},{"offset":0.45,"color":"#fff"},{"offset":0.45,"color":"#000"},{"offset":0.475,"color":"#000"},{"offset":0.475,"color":"#fff"},{"offset":0.5,"color":"#fff"},{"offset":0.5,"color":"#000"},{"offset":0.525,"color":"#000"},{"offset":0.525,"color":"#fff"},{"offset":0.55,"color":"#fff"},{"offset":0.55,"color":"#000"},{"offset":0.575,"color":"#000"},{"offset":0.575,"color":"#fff"},{"offset":0.6,"color":"#fff"},{"offset":0.6,"color":"#000"},{"offset":0.625,"color":"#000"},{"offset":0.625,"color":"#fff"},{"offset":0.65,"color":"#fff"},{"offset":0.65,"color":"#000"},{"offset":0.675,"color":"#000"},{"offset":0.675,"color":"#fff"},{"offset":0.7,"color":"#fff"},{"offset":0.7,"color":"#000"},{"offset":0.725,"color":"#000"},{"offset":0.725,"color":"#fff"},{"offset":0.75,"color":"#fff"},{"offset":0.75,"color":"#000"},{"offset":0.775,"color":"#000"},{"offset":0.775,"color":"#fff"},{"offset":0.8,"color":"#fff"},{"offset":0.8,"color":"#000"},{"offset":0.825,"color":"#000"},{"offset":0.825,"color":"#fff"},{"offset":0.85,"color":"#fff"},{"offset":0.85,"color":"#000"},{"offset":0.875,"color":"#000"},{"offset":0.875,"color":"#fff"},{"offset":0.9,"color":"#fff"},{"offset":0.9,"color":"#000"},{"offset":0.925,"color":"#000"},{"offset":0.925,"color":"#fff"},{"offset":0.95,"color":"#fff"},{"offset":0.95,"color":"#000"},{"offset":0.975,"color":"#000"},{"offset":0.975,"color":"#fff"},{"offset":1,"color":"#fff"}]}}}},
{"transform":[{"filter":"datum.group==='S-BSA'||datum.group==='S-TiO2'"}],"mark":{"type":"bar","strokeWidth":0,"blend":"difference"},"encoding":{"y":{"field":"q1","type":"quantitative","title":"Total cell number (*10^6/rat)"},"y2":{"field":"q3"},
"fill":{"condition":{"test":"datum.group==='S-BSA'","value":{"gradient":"linear","x1":0,"y1":0,"x2":0,"y2":1,"stops":[{"offset":0,"color":"#fff"},{"offset":0.0417,"color":"#fff"},{"offset":0.0417,"color":"#000"},{"offset":0.0833,"color":"#000"},{"offset":0.0833,"color":"#fff"},{"offset":0.125,"color":"#fff"},{"offset":0.125,"color":"#000"},{"offset":0.1667,"color":"#000"},{"offset":0.1667,"color":"#fff"},{"offset":0.2083,"color":"#fff"},{"offset":0.2083,"color":"#000"},{"offset":0.25,"color":"#000"},{"offset":0.25,"color":"#fff"},{"offset":0.2917,"color":"#fff"},{"offset":0.2917,"color":"#000"},{"offset":0.3333,"color":"#000"},{"offset":0.3333,"color":"#fff"},{"offset":0.375,"color":"#fff"},{"offset":0.375,"color":"#000"},{"offset":0.4167,"color":"#000"},{"offset":0.4167,"color":"#fff"},{"offset":0.4583,"color":"#fff"},{"offset":0.4583,"color":"#000"},{"offset":0.5,"color":"#000"},{"offset":0.5,"color":"#fff"},{"offset":0.5417,"color":"#fff"},{"offset":0.5417,"color":"#000"},{"offset":0.5833,"color":"#000"},{"offset":0.5833,"color":"#fff"},{"offset":0.625,"color":"#fff"},{"offset":0.625,"color":"#000"},{"offset":0.6667,"color":"#000"},{"offset":0.6667,"color":"#fff"},{"offset":0.7083,"color":"#fff"},{"offset":0.7083,"color":"#000"},{"offset":0.75,"color":"#000"},{"offset":0.75,"color":"#fff"},{"offset":0.7917,"color":"#fff"},{"offset":0.7917,"color":"#000"},{"offset":0.8333,"color":"#000"},{"offset":0.8333,"color":"#fff"},{"offset":0.875,"color":"#fff"},{"offset":0.875,"color":"#000"},{"offset":0.9167,"color":"#000"},{"offset":0.9167,"color":"#fff"},{"offset":0.9583,"color":"#fff"},{"offset":0.9583,"color":"#000"},{"offset":1,"color":"#000"}]}},
"value":{"gradient":"linear","x1":0,"y1":0,"x2":0,"y2":1,"stops":[{"offset":0,"color":"#fff"},{"offset":0.1667,"color":"#fff"},{"offset":0.1667,"color":"#000"},{"offset":0.3333,"color":"#000"},{"offset":0.3333,"color":"#fff"},{"offset":0.5,"color":"#fff"},{"offset":0.5,"color":"#000"},{"offset":0.6667,"color":"#000"},{"offset":0.6667,"color":"#fff"},{"offset":0.8333,"color":"#fff"},{"offset":0.8333,"color":"#000"},{"offset":1,"color":"#000"}]}}}},
{"mark":{"type":"tick","size":47,"thickness":4,"color":"#000","opacity":1},"encoding":{"y":{"field":"median","type":"quantitative","title":"Total cell number (*10^6/rat)"}}},
{"mark":{"type":"bar","filled":false,"stroke":"#000","strokeWidth":3.5,"strokeJoin":"round"},"encoding":{"y":{"field":"q1","type":"quantitative","title":"Total cell number (*10^6/rat)"},"y2":{"field":"q3"}}},
{"mark":{"type":"tick","size":27,"thickness":3.5,"color":"#000","opacity":1},"encoding":{"y":{"field":"min","type":"quantitative","title":"Total cell number (*10^6/rat)"}}},
{"mark":{"type":"tick","size":27,"thickness":3.5,"color":"#000","opacity":1},"encoding":{"y":{"field":"max","type":"quantitative","title":"Total cell number (*10^6/rat)"}}},
{"transform":[{"filter":"datum.sig"}],"mark":{"type":"text","text":"*","fontSize":34,"fontWeight":"bold","baseline":"alphabetic","dy":3,"color":"#000"},"encoding":{"y":{"field":"max","type":"quantitative","title":"Total cell number (*10^6/rat)"}}}
]},
{"width":380,"height":290,"title":{"text":"D","offset":-2},
"transform":[{"filter":"datum.panel==='D'"}],
"encoding":{"x":{"field":"group","type":"nominal","sort":["S-BSA","S-TiO2","S-CB","E-BSA","E-TiO2","E-CB"],"title":null,"scale":{"paddingInner":0.25,"paddingOuter":0.125}}},
"layer":[
{"mark":{"type":"rule","strokeWidth":3.5,"color":"#000"},"encoding":{"y":{"field":"min","type":"quantitative","scale":{"domain":[0,50],"nice":false},"axis":{"values":[0,10,20,30,40,50]},"title":"Total cell number (*10^6/rat)"},"y2":{"field":"max"}}},
{"mark":{"type":"bar","strokeWidth":0},"encoding":{"y":{"field":"q1","type":"quantitative","title":"Total cell number (*10^6/rat)"},"y2":{"field":"q3"},
"fill":{"condition":[
{"test":"datum.group==='S-BSA'","value":{"gradient":"linear","x1":0,"y1":0,"x2":1,"y2":0,"stops":[{"offset":0,"color":"#fff"},{"offset":0.0455,"color":"#fff"},{"offset":0.0455,"color":"#000"},{"offset":0.0909,"color":"#000"},{"offset":0.0909,"color":"#fff"},{"offset":0.1364,"color":"#fff"},{"offset":0.1364,"color":"#000"},{"offset":0.1818,"color":"#000"},{"offset":0.1818,"color":"#fff"},{"offset":0.2273,"color":"#fff"},{"offset":0.2273,"color":"#000"},{"offset":0.2727,"color":"#000"},{"offset":0.2727,"color":"#fff"},{"offset":0.3182,"color":"#fff"},{"offset":0.3182,"color":"#000"},{"offset":0.3636,"color":"#000"},{"offset":0.3636,"color":"#fff"},{"offset":0.4091,"color":"#fff"},{"offset":0.4091,"color":"#000"},{"offset":0.4545,"color":"#000"},{"offset":0.4545,"color":"#fff"},{"offset":0.5,"color":"#fff"},{"offset":0.5,"color":"#000"},{"offset":0.5455,"color":"#000"},{"offset":0.5455,"color":"#fff"},{"offset":0.5909,"color":"#fff"},{"offset":0.5909,"color":"#000"},{"offset":0.6364,"color":"#000"},{"offset":0.6364,"color":"#fff"},{"offset":0.6818,"color":"#fff"},{"offset":0.6818,"color":"#000"},{"offset":0.7273,"color":"#000"},{"offset":0.7273,"color":"#fff"},{"offset":0.7727,"color":"#fff"},{"offset":0.7727,"color":"#000"},{"offset":0.8182,"color":"#000"},{"offset":0.8182,"color":"#fff"},{"offset":0.8636,"color":"#fff"},{"offset":0.8636,"color":"#000"},{"offset":0.9091,"color":"#000"},{"offset":0.9091,"color":"#fff"},{"offset":0.9545,"color":"#fff"},{"offset":0.9545,"color":"#000"},{"offset":1,"color":"#000"}]}},
{"test":"datum.group==='S-TiO2'","value":{"gradient":"linear","x1":0,"y1":0,"x2":1,"y2":0,"stops":[{"offset":0,"color":"#fff"},{"offset":0.1,"color":"#fff"},{"offset":0.1,"color":"#000"},{"offset":0.2,"color":"#000"},{"offset":0.2,"color":"#fff"},{"offset":0.3,"color":"#fff"},{"offset":0.3,"color":"#000"},{"offset":0.4,"color":"#000"},{"offset":0.4,"color":"#fff"},{"offset":0.5,"color":"#fff"},{"offset":0.5,"color":"#000"},{"offset":0.6,"color":"#000"},{"offset":0.6,"color":"#fff"},{"offset":0.7,"color":"#fff"},{"offset":0.7,"color":"#000"},{"offset":0.8,"color":"#000"},{"offset":0.8,"color":"#fff"},{"offset":0.9,"color":"#fff"},{"offset":0.9,"color":"#000"},{"offset":1,"color":"#000"}]}},
{"test":"datum.group==='S-CB'","value":{"gradient":"linear","x1":0,"y1":0,"x2":0,"y2":1,"stops":[{"offset":0,"color":"#000"},{"offset":0.215,"color":"#000"},{"offset":0.215,"color":"#fff"},{"offset":0.285,"color":"#fff"},{"offset":0.285,"color":"#000"},{"offset":0.465,"color":"#000"},{"offset":0.465,"color":"#fff"},{"offset":0.535,"color":"#fff"},{"offset":0.535,"color":"#000"},{"offset":0.715,"color":"#000"},{"offset":0.715,"color":"#fff"},{"offset":0.785,"color":"#fff"},{"offset":0.785,"color":"#000"},{"offset":1,"color":"#000"}]}},
{"test":"datum.group==='E-BSA'","value":{"gradient":"linear","x1":0,"y1":0,"x2":1,"y2":0,"stops":[{"offset":0,"color":"#000"},{"offset":0.14,"color":"#000"},{"offset":0.14,"color":"#fff"},{"offset":0.19,"color":"#fff"},{"offset":0.19,"color":"#000"},{"offset":0.31,"color":"#000"},{"offset":0.31,"color":"#fff"},{"offset":0.36,"color":"#fff"},{"offset":0.36,"color":"#000"},{"offset":0.475,"color":"#000"},{"offset":0.475,"color":"#fff"},{"offset":0.525,"color":"#fff"},{"offset":0.525,"color":"#000"},{"offset":0.64,"color":"#000"},{"offset":0.64,"color":"#fff"},{"offset":0.69,"color":"#fff"},{"offset":0.69,"color":"#000"},{"offset":0.81,"color":"#000"},{"offset":0.81,"color":"#fff"},{"offset":0.86,"color":"#fff"},{"offset":0.86,"color":"#000"},{"offset":1,"color":"#000"}]}},
{"test":"datum.group==='E-TiO2'","value":{"gradient":"linear","x1":0,"y1":0,"x2":1,"y2":1,"stops":[{"offset":0,"color":"#000"},{"offset":0.025,"color":"#000"},{"offset":0.025,"color":"#fff"},{"offset":0.05,"color":"#fff"},{"offset":0.05,"color":"#000"},{"offset":0.075,"color":"#000"},{"offset":0.075,"color":"#fff"},{"offset":0.1,"color":"#fff"},{"offset":0.1,"color":"#000"},{"offset":0.125,"color":"#000"},{"offset":0.125,"color":"#fff"},{"offset":0.15,"color":"#fff"},{"offset":0.15,"color":"#000"},{"offset":0.175,"color":"#000"},{"offset":0.175,"color":"#fff"},{"offset":0.2,"color":"#fff"},{"offset":0.2,"color":"#000"},{"offset":0.225,"color":"#000"},{"offset":0.225,"color":"#fff"},{"offset":0.25,"color":"#fff"},{"offset":0.25,"color":"#000"},{"offset":0.275,"color":"#000"},{"offset":0.275,"color":"#fff"},{"offset":0.3,"color":"#fff"},{"offset":0.3,"color":"#000"},{"offset":0.325,"color":"#000"},{"offset":0.325,"color":"#fff"},{"offset":0.35,"color":"#fff"},{"offset":0.35,"color":"#000"},{"offset":0.375,"color":"#000"},{"offset":0.375,"color":"#fff"},{"offset":0.4,"color":"#fff"},{"offset":0.4,"color":"#000"},{"offset":0.425,"color":"#000"},{"offset":0.425,"color":"#fff"},{"offset":0.45,"color":"#fff"},{"offset":0.45,"color":"#000"},{"offset":0.475,"color":"#000"},{"offset":0.475,"color":"#fff"},{"offset":0.5,"color":"#fff"},{"offset":0.5,"color":"#000"},{"offset":0.525,"color":"#000"},{"offset":0.525,"color":"#fff"},{"offset":0.55,"color":"#fff"},{"offset":0.55,"color":"#000"},{"offset":0.575,"color":"#000"},{"offset":0.575,"color":"#fff"},{"offset":0.6,"color":"#fff"},{"offset":0.6,"color":"#000"},{"offset":0.625,"color":"#000"},{"offset":0.625,"color":"#fff"},{"offset":0.65,"color":"#fff"},{"offset":0.65,"color":"#000"},{"offset":0.675,"color":"#000"},{"offset":0.675,"color":"#fff"},{"offset":0.7,"color":"#fff"},{"offset":0.7,"color":"#000"},{"offset":0.725,"color":"#000"},{"offset":0.725,"color":"#fff"},{"offset":0.75,"color":"#fff"},{"offset":0.75,"color":"#000"},{"offset":0.775,"color":"#000"},{"offset":0.775,"color":"#fff"},{"offset":0.8,"color":"#fff"},{"offset":0.8,"color":"#000"},{"offset":0.825,"color":"#000"},{"offset":0.825,"color":"#fff"},{"offset":0.85,"color":"#fff"},{"offset":0.85,"color":"#000"},{"offset":0.875,"color":"#000"},{"offset":0.875,"color":"#fff"},{"offset":0.9,"color":"#fff"},{"offset":0.9,"color":"#000"},{"offset":0.925,"color":"#000"},{"offset":0.925,"color":"#fff"},{"offset":0.95,"color":"#fff"},{"offset":0.95,"color":"#000"},{"offset":0.975,"color":"#000"},{"offset":0.975,"color":"#fff"},{"offset":1,"color":"#fff"}]}}
],"value":{"gradient":"linear","x1":0,"y1":1,"x2":1,"y2":0,"stops":[{"offset":0,"color":"#000"},{"offset":0.025,"color":"#000"},{"offset":0.025,"color":"#fff"},{"offset":0.05,"color":"#fff"},{"offset":0.05,"color":"#000"},{"offset":0.075,"color":"#000"},{"offset":0.075,"color":"#fff"},{"offset":0.1,"color":"#fff"},{"offset":0.1,"color":"#000"},{"offset":0.125,"color":"#000"},{"offset":0.125,"color":"#fff"},{"offset":0.15,"color":"#fff"},{"offset":0.15,"color":"#000"},{"offset":0.175,"color":"#000"},{"offset":0.175,"color":"#fff"},{"offset":0.2,"color":"#fff"},{"offset":0.2,"color":"#000"},{"offset":0.225,"color":"#000"},{"offset":0.225,"color":"#fff"},{"offset":0.25,"color":"#fff"},{"offset":0.25,"color":"#000"},{"offset":0.275,"color":"#000"},{"offset":0.275,"color":"#fff"},{"offset":0.3,"color":"#fff"},{"offset":0.3,"color":"#000"},{"offset":0.325,"color":"#000"},{"offset":0.325,"color":"#fff"},{"offset":0.35,"color":"#fff"},{"offset":0.35,"color":"#000"},{"offset":0.375,"color":"#000"},{"offset":0.375,"color":"#fff"},{"offset":0.4,"color":"#fff"},{"offset":0.4,"color":"#000"},{"offset":0.425,"color":"#000"},{"offset":0.425,"color":"#fff"},{"offset":0.45,"color":"#fff"},{"offset":0.45,"color":"#000"},{"offset":0.475,"color":"#000"},{"offset":0.475,"color":"#fff"},{"offset":0.5,"color":"#fff"},{"offset":0.5,"color":"#000"},{"offset":0.525,"color":"#000"},{"offset":0.525,"color":"#fff"},{"offset":0.55,"color":"#fff"},{"offset":0.55,"color":"#000"},{"offset":0.575,"color":"#000"},{"offset":0.575,"color":"#fff"},{"offset":0.6,"color":"#fff"},{"offset":0.6,"color":"#000"},{"offset":0.625,"color":"#000"},{"offset":0.625,"color":"#fff"},{"offset":0.65,"color":"#fff"},{"offset":0.65,"color":"#000"},{"offset":0.675,"color":"#000"},{"offset":0.675,"color":"#fff"},{"offset":0.7,"color":"#fff"},{"offset":0.7,"color":"#000"},{"offset":0.725,"color":"#000"},{"offset":0.725,"color":"#fff"},{"offset":0.75,"color":"#fff"},{"offset":0.75,"color":"#000"},{"offset":0.775,"color":"#000"},{"offset":0.775,"color":"#fff"},{"offset":0.8,"color":"#fff"},{"offset":0.8,"color":"#000"},{"offset":0.825,"color":"#000"},{"offset":0.825,"color":"#fff"},{"offset":0.85,"color":"#fff"},{"offset":0.85,"color":"#000"},{"offset":0.875,"color":"#000"},{"offset":0.875,"color":"#fff"},{"offset":0.9,"color":"#fff"},{"offset":0.9,"color":"#000"},{"offset":0.925,"color":"#000"},{"offset":0.925,"color":"#fff"},{"offset":0.95,"color":"#fff"},{"offset":0.95,"color":"#000"},{"offset":0.975,"color":"#000"},{"offset":0.975,"color":"#fff"},{"offset":1,"color":"#fff"}]}}}},
{"transform":[{"filter":"datum.group==='S-BSA'||datum.group==='S-TiO2'"}],"mark":{"type":"bar","strokeWidth":0,"blend":"difference"},"encoding":{"y":{"field":"q1","type":"quantitative","title":"Total cell number (*10^6/rat)"},"y2":{"field":"q3"},
"fill":{"condition":{"test":"datum.group==='S-BSA'","value":{"gradient":"linear","x1":0,"y1":0,"x2":0,"y2":1,"stops":[{"offset":0,"color":"#fff"},{"offset":0.0417,"color":"#fff"},{"offset":0.0417,"color":"#000"},{"offset":0.0833,"color":"#000"},{"offset":0.0833,"color":"#fff"},{"offset":0.125,"color":"#fff"},{"offset":0.125,"color":"#000"},{"offset":0.1667,"color":"#000"},{"offset":0.1667,"color":"#fff"},{"offset":0.2083,"color":"#fff"},{"offset":0.2083,"color":"#000"},{"offset":0.25,"color":"#000"},{"offset":0.25,"color":"#fff"},{"offset":0.2917,"color":"#fff"},{"offset":0.2917,"color":"#000"},{"offset":0.3333,"color":"#000"},{"offset":0.3333,"color":"#fff"},{"offset":0.375,"color":"#fff"},{"offset":0.375,"color":"#000"},{"offset":0.4167,"color":"#000"},{"offset":0.4167,"color":"#fff"},{"offset":0.4583,"color":"#fff"},{"offset":0.4583,"color":"#000"},{"offset":0.5,"color":"#000"},{"offset":0.5,"color":"#fff"},{"offset":0.5417,"color":"#fff"},{"offset":0.5417,"color":"#000"},{"offset":0.5833,"color":"#000"},{"offset":0.5833,"color":"#fff"},{"offset":0.625,"color":"#fff"},{"offset":0.625,"color":"#000"},{"offset":0.6667,"color":"#000"},{"offset":0.6667,"color":"#fff"},{"offset":0.7083,"color":"#fff"},{"offset":0.7083,"color":"#000"},{"offset":0.75,"color":"#000"},{"offset":0.75,"color":"#fff"},{"offset":0.7917,"color":"#fff"},{"offset":0.7917,"color":"#000"},{"offset":0.8333,"color":"#000"},{"offset":0.8333,"color":"#fff"},{"offset":0.875,"color":"#fff"},{"offset":0.875,"color":"#000"},{"offset":0.9167,"color":"#000"},{"offset":0.9167,"color":"#fff"},{"offset":0.9583,"color":"#fff"},{"offset":0.9583,"color":"#000"},{"offset":1,"color":"#000"}]}},
"value":{"gradient":"linear","x1":0,"y1":0,"x2":0,"y2":1,"stops":[{"offset":0,"color":"#fff"},{"offset":0.1667,"color":"#fff"},{"offset":0.1667,"color":"#000"},{"offset":0.3333,"color":"#000"},{"offset":0.3333,"color":"#fff"},{"offset":0.5,"color":"#fff"},{"offset":0.5,"color":"#000"},{"offset":0.6667,"color":"#000"},{"offset":0.6667,"color":"#fff"},{"offset":0.8333,"color":"#fff"},{"offset":0.8333,"color":"#000"},{"offset":1,"color":"#000"}]}}}},
{"mark":{"type":"tick","size":47,"thickness":4,"color":"#000","opacity":1},"encoding":{"y":{"field":"median","type":"quantitative","title":"Total cell number (*10^6/rat)"}}},
{"mark":{"type":"bar","filled":false,"stroke":"#000","strokeWidth":3.5,"strokeJoin":"round"},"encoding":{"y":{"field":"q1","type":"quantitative","title":"Total cell number (*10^6/rat)"},"y2":{"field":"q3"}}},
{"mark":{"type":"tick","size":27,"thickness":3.5,"color":"#000","opacity":1},"encoding":{"y":{"field":"min","type":"quantitative","title":"Total cell number (*10^6/rat)"}}},
{"mark":{"type":"tick","size":27,"thickness":3.5,"color":"#000","opacity":1},"encoding":{"y":{"field":"max","type":"quantitative","title":"Total cell number (*10^6/rat)"}}},
{"transform":[{"filter":"datum.sig"}],"mark":{"type":"text","text":"*","fontSize":34,"fontWeight":"bold","baseline":"alphabetic","dy":3,"color":"#000"},"encoding":{"y":{"field":"max","type":"quantitative","title":"Total cell number (*10^6/rat)"}}}
]}
],"spacing":213}
],"spacing":27
}
